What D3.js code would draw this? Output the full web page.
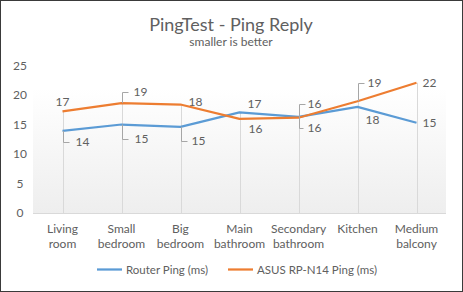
<!DOCTYPE html>
<html>
<head>
<meta charset="utf-8">
<script src="https://cdn.jsdelivr.net/npm/d3@7"></script>
<style>
  html, body { margin: 0; padding: 0; background: #fff; }
  svg { display: block; }
</style>
</head>
<body>
<div id="chart"></div>
<script>
const categories = ['Living room', 'Small bedroom', 'Big bedroom', 'Main bathroom', 'Secondary bathroom', 'Kitchen', 'Medium balcony'];
const routerPing = [13.95, 15.05, 14.65, 17.1, 16.35, 18.05, 15.35];
const asusPing = [17.3, 18.7, 18.45, 16.0, 16.2, 19.0, 22.15];
const yTicks = [0, 5, 10, 15, 20, 25];
const seriesNames = ['Router Ping (ms)', 'ASUS RP-N14 Ping (ms)'];

// label placement per point: [dx, dy, leader]  (leader: 'up' / 'down' / none)
const routerLabelPlace = [[20, 11, 'down'], [20, 14, 'down'], [18, 14, 'down'], [15, -8, null], [-17, 11, 'down-left'], [15, 13, null], [13, 0, null]];
const asusLabelPlace = [[0, -9, null], [19, -11, 'up'], [15, -3, null], [16, 10, null], [16, -14, 'up'], [17, -18, 'up'], [13, 0, null]];

const width = 463, height = 292;
const margin = {top: 66, right: 17, bottom: 79, left: 33};
const colors = ['#5B9BD5', '#ED7D31'];
const textColor = '#606060';
const font = 'Lato, Open Sans, sans-serif';

const svg = d3.select('#chart').append('svg')
  .attr('width', width)
  .attr('height', height);

svg.append('rect')
  .attr('x', 0.5).attr('y', 0.5)
  .attr('width', width - 1).attr('height', height - 1)
  .attr('fill', '#fff')
  .attr('stroke', '#3a3a3a');

const defs = svg.append('defs');
const grad = defs.append('linearGradient')
  .attr('id', 'plotbg')
  .attr('x1', 0).attr('y1', 0).attr('x2', 0).attr('y2', 1);
grad.append('stop').attr('offset', '0%').attr('stop-color', '#ffffff');
grad.append('stop').attr('offset', '100%').attr('stop-color', '#eeeeee');

const x = d3.scaleBand()
  .domain(categories)
  .range([margin.left, width - margin.right]);

const y = d3.scaleLinear()
  .domain([0, 25])
  .range([height - margin.bottom, margin.top]);

const cx = d => x(d) + x.bandwidth() / 2;

// plot background
svg.append('rect')
  .attr('x', margin.left)
  .attr('y', y(21.2))
  .attr('width', width - margin.right - margin.left)
  .attr('height', y(0) - y(21.2))
  .attr('fill', 'url(#plotbg)');

// title
svg.append('text')
  .attr('x', 231).attr('y', 31)
  .attr('text-anchor', 'middle')
  .attr('fill', textColor)
  .style('font', `18px ${font}`)
  .text('PingTest - Ping Reply');

svg.append('text')
  .attr('x', 231).attr('y', 46)
  .attr('text-anchor', 'middle')
  .attr('fill', textColor)
  .style('font', `12px ${font}`)
  .text('smaller is better');

// y axis labels
svg.append('g')
  .selectAll('text')
  .data(yTicks)
  .enter().append('text')
  .attr('x', 20)
  .attr('y', d => y(d) + 4)
  .attr('text-anchor', 'middle')
  .attr('fill', textColor)
  .style('font', `12px ${font}`)
  .text(d => d);

// drop lines
svg.append('g')
  .selectAll('line')
  .data(categories)
  .enter().append('line')
  .attr('x1', d => Math.round(cx(d)) + 0.5)
  .attr('x2', d => Math.round(cx(d)) + 0.5)
  .attr('y1', (d, i) => y(Math.max(routerPing[i], asusPing[i])))
  .attr('y2', y(0))
  .attr('stroke', '#d9d9d9')
  .attr('stroke-width', 1);

// x axis line
svg.append('line')
  .attr('x1', margin.left).attr('x2', width - margin.right)
  .attr('y1', Math.round(y(0)) + 0.5).attr('y2', Math.round(y(0)) + 0.5)
  .attr('stroke', '#d9d9d9');

// category labels
const catLabels = svg.append('g')
  .selectAll('text')
  .data(categories)
  .enter().append('text')
  .attr('text-anchor', 'middle')
  .attr('fill', textColor)
  .style('font', `12px ${font}`);
catLabels.each(function(d) {
  const words = d.split(' ');
  const t = d3.select(this);
  words.forEach((w, k) => {
    t.append('tspan')
      .attr('x', cx(d))
      .attr('y', 233 + k * 15)
      .text(w);
  });
});

// lines
const line = d3.line()
  .x((d, i) => cx(categories[i]))
  .y(d => y(d));

[routerPing, asusPing].forEach((series, s) => {
  svg.append('path')
    .datum(series)
    .attr('fill', 'none')
    .attr('stroke', colors[s])
    .attr('stroke-width', 2.25)
    .attr('stroke-linejoin', 'round')
    .attr('d', line);
});

// data labels
function drawLabels(series, place) {
  const g = svg.append('g');
  series.forEach((v, i) => {
    const px = cx(categories[i]);
    const py = y(v);
    const [dx, dy, leader] = place[i];
    const tx = px + dx, ty = py + dy;
    if (leader) {
      const lx = Math.round(px) + 0.5;
      const hx = leader === 'down-left' ? lx + 4 : lx + 6;
      g.append('path')
        .attr('d', `M${lx},${py}V${Math.round(ty) + 0.5}H${hx}`)
        .attr('fill', 'none')
        .attr('stroke', '#a6a6a6')
        .attr('stroke-width', 1);
    }
    g.append('text')
      .attr('x', leader === 'down-left' ? px + 16 : tx)
      .attr('y', ty + 4)
      .attr('text-anchor', 'middle')
      .attr('fill', textColor)
      .style('font', `12px ${font}`)
      .text(Math.round(v));
  });
}
drawLabels(routerPing, routerLabelPlace);
drawLabels(asusPing, asusLabelPlace);

// legend
const legendX = [97, 228];
seriesNames.forEach((name, s) => {
  svg.append('line')
    .attr('x1', legendX[s]).attr('x2', legendX[s] + 25)
    .attr('y1', 269.5).attr('y2', 269.5)
    .attr('stroke', colors[s])
    .attr('stroke-width', 2.25);
  svg.append('text')
    .attr('x', legendX[s] + 29)
    .attr('y', 273.5)
    .attr('fill', textColor)
    .style('font', `11.5px ${font}`)
    .text(name);
});
</script>
</body>
</html>
